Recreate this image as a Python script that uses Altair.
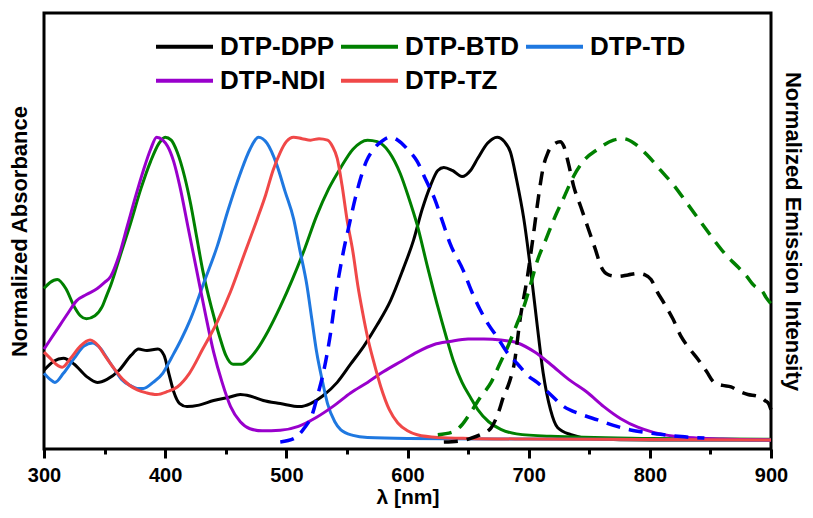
import altair as alt
import pandas as pd

# ---------- Absorbance (solid) ----------
dpp_x = [300, 308, 316, 325, 335, 344, 352, 362, 372, 378, 385, 394, 399, 403, 407, 412, 418, 428, 440, 452, 462, 470, 481, 495, 511, 520, 530, 542, 553, 564, 575, 586, 596, 605, 612, 619, 625, 630, 637, 645, 652, 658, 666, 674, 680, 685, 690, 696, 702, 707, 712, 718, 724, 735, 750, 800, 900]
dpp_y = [0.23, 0.26, 0.27, 0.25, 0.21, 0.19, 0.20, 0.23, 0.28, 0.30, 0.295, 0.30, 0.28, 0.22, 0.16, 0.12, 0.11, 0.115, 0.13, 0.14, 0.15, 0.145, 0.13, 0.12, 0.11, 0.12, 0.145, 0.19, 0.25, 0.31, 0.38, 0.46, 0.56, 0.66, 0.76, 0.84, 0.89, 0.90, 0.89, 0.87, 0.89, 0.93, 0.98, 1.0, 0.985, 0.95, 0.86, 0.73, 0.55, 0.38, 0.22, 0.10, 0.04, 0.017, 0.005, 0.0, 0.0]

btd_x = [300, 305, 311, 318, 325, 330, 335, 342, 348, 352, 355, 363, 371, 380, 388, 395, 400, 405, 410, 416, 421, 426, 431, 438, 445, 450, 456, 463, 470, 476, 485, 495, 505, 515, 525, 535, 545, 555, 567, 575, 585, 594, 601, 608, 616, 625, 632, 638, 645, 652, 658, 667, 677, 690, 718, 800, 900]
btd_y = [0.50, 0.52, 0.53, 0.50, 0.44, 0.41, 0.40, 0.41, 0.44, 0.48, 0.51, 0.61, 0.71, 0.83, 0.92, 0.98, 1.0, 0.99, 0.95, 0.87, 0.78, 0.67, 0.56, 0.44, 0.34, 0.28, 0.25, 0.25, 0.27, 0.30, 0.36, 0.44, 0.53, 0.63, 0.74, 0.83, 0.90, 0.96, 0.99, 0.985, 0.95, 0.88, 0.80, 0.71, 0.58, 0.44, 0.34, 0.26, 0.19, 0.14, 0.10, 0.06, 0.035, 0.02, 0.012, 0.005, 0.002]

td_x = [300, 305, 309, 316, 325, 333, 340, 347, 352, 357, 364, 371, 377, 382, 390, 398, 405, 413, 421, 432, 443, 452, 462, 470, 477, 484, 492, 499, 506, 511, 517, 521, 525, 530, 534, 540, 545, 555, 567, 600, 700, 900]
td_y = [0.22, 0.20, 0.19, 0.22, 0.27, 0.31, 0.32, 0.30, 0.27, 0.24, 0.20, 0.18, 0.17, 0.17, 0.19, 0.22, 0.27, 0.33, 0.40, 0.52, 0.64, 0.76, 0.88, 0.96, 1.0, 0.98, 0.91, 0.82, 0.73, 0.63, 0.51, 0.40, 0.29, 0.19, 0.12, 0.06, 0.033, 0.015, 0.008, 0.005, 0.003, 0.0]

ndi_x = [300, 310, 320, 327, 335, 344, 350, 355, 362, 369, 376, 382, 388, 393, 398, 402, 407, 412, 419, 426, 433, 440, 447, 454, 462, 470, 480, 495, 510, 525, 540, 553, 567, 580, 595, 608, 622, 635, 650, 663, 677, 691, 705, 718, 733, 749, 762, 776, 790, 803, 820, 840, 860, 900]
ndi_y = [0.30, 0.36, 0.42, 0.46, 0.48, 0.50, 0.52, 0.54, 0.61, 0.71, 0.81, 0.89, 0.96, 1.0, 0.99, 0.97, 0.92, 0.84, 0.70, 0.56, 0.42, 0.29, 0.19, 0.11, 0.06, 0.037, 0.03, 0.032, 0.045, 0.075, 0.115, 0.155, 0.19, 0.225, 0.26, 0.29, 0.315, 0.325, 0.333, 0.333, 0.33, 0.32, 0.29, 0.25, 0.20, 0.155, 0.11, 0.07, 0.042, 0.025, 0.012, 0.006, 0.003, 0.0]

tz_x = [300, 305, 310, 315, 322, 330, 338, 345, 350, 357, 365, 377, 385, 393, 402, 410, 420, 431, 443, 454, 465, 476, 483, 489, 495, 500, 506, 513, 520, 527, 534, 538, 542, 546, 550, 555, 559, 563, 567, 572, 578, 585, 592, 600, 608, 625, 650, 700, 900]
tz_y = [0.29, 0.27, 0.25, 0.24, 0.27, 0.31, 0.33, 0.31, 0.28, 0.24, 0.20, 0.165, 0.155, 0.15, 0.16, 0.175, 0.22, 0.30, 0.39, 0.49, 0.61, 0.73, 0.81, 0.89, 0.95, 0.985, 1.0, 0.995, 0.99, 0.995, 0.99, 0.97, 0.93, 0.84, 0.73, 0.62, 0.51, 0.42, 0.34, 0.26, 0.175, 0.10, 0.056, 0.03, 0.017, 0.008, 0.005, 0.003, 0.0]

# ---------- Emission (dashed) ----------
td_em_x = [495, 507, 515, 521, 526, 531, 536, 542, 547, 553, 557, 561, 566, 572, 580, 586, 592, 600, 608, 615, 622, 629, 635, 646, 653, 660, 667, 674, 682, 691, 700, 707, 718, 729, 743, 757, 770, 784, 798, 812, 826, 845]
td_em_y = [-0.007, 0.006, 0.04, 0.08, 0.15, 0.23, 0.34, 0.51, 0.62, 0.73, 0.80, 0.86, 0.92, 0.96, 0.99, 1.0, 0.99, 0.96, 0.92, 0.86, 0.80, 0.72, 0.65, 0.56, 0.49, 0.43, 0.38, 0.34, 0.29, 0.25, 0.21, 0.19, 0.15, 0.11, 0.085, 0.066, 0.048, 0.033, 0.024, 0.017, 0.011, 0.006]

btd_em_x = [625, 638, 645, 652, 660, 669, 676, 683, 690, 696, 702, 707, 714, 721, 729, 737, 745, 757, 770, 778, 787, 798, 809, 820, 831, 842, 853, 863, 873, 880, 886, 890, 893, 896, 900]
btd_em_y = [0.017, 0.027, 0.05, 0.09, 0.14, 0.19, 0.25, 0.31, 0.38, 0.44, 0.52, 0.59, 0.66, 0.73, 0.80, 0.87, 0.92, 0.96, 0.99, 0.995, 0.98, 0.94, 0.89, 0.84, 0.78, 0.72, 0.66, 0.61, 0.57, 0.54, 0.51, 0.50, 0.49, 0.47, 0.45]

dpp_em_x = [630, 644, 652, 660, 669, 675, 679, 684, 688, 693, 699, 704, 708, 712, 716, 722, 726, 729, 733, 737, 743, 749, 755, 760, 766, 774, 782, 790, 796, 801, 806, 812, 819, 826, 833, 840, 847, 853, 860, 867, 874, 881, 888, 892, 895, 898, 900]
dpp_em_y = [-0.007, -0.003, 0.005, 0.017, 0.04, 0.09, 0.14, 0.19, 0.25, 0.40, 0.54, 0.68, 0.80, 0.90, 0.95, 0.98, 0.985, 0.97, 0.91, 0.84, 0.77, 0.70, 0.63, 0.57, 0.545, 0.54, 0.545, 0.55, 0.545, 0.53, 0.49, 0.45, 0.40, 0.34, 0.30, 0.265, 0.225, 0.19, 0.18, 0.175, 0.16, 0.15, 0.145, 0.14, 0.13, 0.12, 0.10]

# legend row 1 and row 2 of the absorbance series
row1_names = ["DTP-DPP", "DTP-BTD", "DTP-TD"]
row1_colors = ["#000000", "#008000", "#1f78e0"]
row2_names = ["DTP-NDI", "DTP-TZ"]
row2_colors = ["#9900cc", "#f04848"]
em_names = ["DTP-DPP em", "DTP-BTD em", "DTP-TD em"]
em_colors = ["#000000", "#008000", "#0000ff"]
x_ticks = [300, 350, 400, 450, 500, 550, 600, 650, 700, 750, 800, 850, 900]


def long_df(names, series):
    rows = []
    for name, (xs, ys) in zip(names, series):
        for i, (a, b) in enumerate(zip(xs, ys)):
            rows.append({"nm": a, "val": b, "sample": name, "i": i})
    return pd.DataFrame(rows)


row1_df = long_df(row1_names, [(dpp_x, dpp_y), (btd_x, btd_y), (td_x, td_y)])
row2_df = long_df(row2_names, [(ndi_x, ndi_y), (tz_x, tz_y)])
em_df = long_df(em_names, [(dpp_em_x, dpp_em_y), (btd_em_x, btd_em_y), (td_em_x, td_em_y)])

FONT = "Liberation Sans"
y_scale = alt.Scale(domain=[-0.03, 1.41], nice=False, zero=False)
x_enc = alt.X(
    "nm:Q",
    scale=alt.Scale(domain=[300, 900], nice=False),
    axis=alt.Axis(
        title="λ [nm]", values=x_ticks,
        labelExpr="datum.value % 100 == 0 ? datum.label : ''",
        tickSize={"condition": {"test": "datum.value % 100 == 0", "value": 9}, "value": 5},
        tickWidth=3, tickColor="black", domain=False, grid=False,
        labelFont=FONT, labelFontSize=20, labelFontWeight="bold", labelColor="black",
        labelPadding=7, labelFlush=False,
        titleFont=FONT, titleFontSize=21, titleFontWeight="bold", titleColor="black",
        titlePadding=1,
    ),
)
y_left = alt.Y("val:Q", scale=y_scale, axis=alt.Axis(
    title="Normalized Absorbance", labels=False, ticks=False, domain=False, grid=False,
    titleFont=FONT, titleFontSize=22, titleFontWeight="bold", titleColor="black",
    titlePadding=13))
y_none = alt.Y("val:Q", scale=y_scale, axis=None)


def legend(ly, cpad):
    return alt.Legend(
        title=None, orient="none", legendX=110, legendY=ly, direction="horizontal",
        columns=3, symbolType="stroke", symbolSize=3249, symbolStrokeWidth=4,
        labelFont=FONT, labelFontSize=26, labelFontWeight="bold", labelColor="black",
        labelOffset=5, columnPadding=cpad, padding=0, labelLimit=0)


row1_layer = alt.Chart(row1_df).mark_line(strokeWidth=3, interpolate="monotone").encode(
    x=x_enc, y=y_left,
    color=alt.Color("sample:N", sort=row1_names,
                    scale=alt.Scale(domain=row1_names, range=row1_colors),
                    legend=legend(3, -2)),
    order="i:Q",
)

row2_layer = alt.Chart(row2_df).mark_line(strokeWidth=3, interpolate="monotone").encode(
    x=x_enc, y=y_none,
    color=alt.Color("sample:N", sort=row2_names,
                    scale=alt.Scale(domain=row2_names, range=row2_colors),
                    legend=legend(37, 7)),
    order="i:Q",
)

em_layer = alt.Chart(em_df).mark_line(strokeWidth=3.5, strokeDash=[14, 9], interpolate="monotone").encode(
    x=x_enc,
    y=alt.Y("val:Q", scale=y_scale, axis=alt.Axis(
        orient="right", title="Normalized Emission Intensity", labels=False, ticks=False,
        domain=False, grid=False, titleFont=FONT, titleFontSize=22, titleFontWeight="bold",
        titleColor="black", titlePadding=9)),
    color=alt.Color("sample:N", scale=alt.Scale(domain=em_names, range=em_colors), legend=None),
    order="i:Q",
)

chart = alt.layer(row1_layer, row2_layer, em_layer).resolve_scale(color="independent").resolve_axis(
    y="independent"
).properties(
    width=797, height=502,
    autosize=alt.AutoSizeParams(type="fit", contains="padding"),
    padding={"left": 0, "top": 5, "right": 2, "bottom": 3},
    background="white",
).configure_view(stroke="black", strokeWidth=3)

chart.save("out.html", embed_options={"renderer": "svg", "actions": False})
